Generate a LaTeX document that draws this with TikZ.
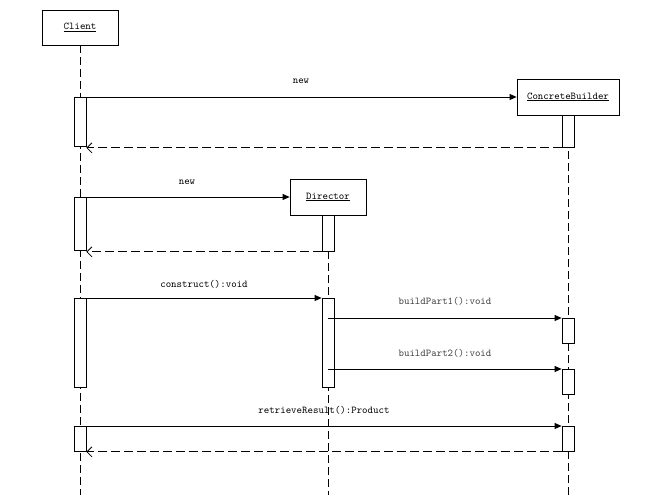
\documentclass[tikz,border=0pt]{standalone}
\usepackage{fontspec}
\usetikzlibrary{arrows.meta}
\newcommand\lbl{\ttfamily\fontsize{10.4}{12}\selectfont}
\begin{document}
\begin{tikzpicture}[x=1pt,y=-1pt,line width=0.8pt,
  obj/.style={draw, fill=white, minimum height=36, inner sep=0, font=\lbl},
  act/.style={draw, fill=white, minimum width=12, inner sep=0, anchor=north},
  life/.style={dash pattern=on 8pt off 4pt},
  call/.style={-{Triangle[length=7pt,width=6pt]}},
  ret/.style={dash pattern=on 9pt off 4pt, -{Straight Barb[length=5pt,width=10pt]}},
  msg/.style={font=\lbl, inner sep=0}]
\useasboundingbox (0,0) rectangle (671,495);
\fill[white] (0,0) rectangle (671,495);
% objects
\node[obj, minimum width=76, minimum height=35] (client) at (80,27.5) {\underline{Client}};
\node[obj, minimum width=102] (cb) at (568,97) {\underline{ConcreteBuilder}};
\node[obj, minimum width=76] (dir) at (328,197) {\underline{Director}};
% lifeline ends
\coordinate (cEnd) at (80,495);
\coordinate (dEnd) at (328,495);
\coordinate (cbEnd) at (568,495);
\draw[life] (client.south) -- (cEnd);
\draw[life] (dir.south) -- (dEnd);
\draw[life] (cb.south) -- (cbEnd);
% activations
\node[act, minimum height=49] (cA1) at (80,97) {};
\node[act, minimum height=32] (cbA1) at (568,115) {};
\node[act, minimum height=53] (cA2) at (80,197) {};
\node[act, minimum height=36] (dA1) at (328,215) {};
\node[act, minimum height=89] (cA3) at (80,298) {};
\node[act, minimum height=89] (dA2) at (328,298) {};
\node[act, minimum height=25] (cbA2) at (568,318) {};
\node[act, minimum height=25] (cbA3) at (568,369) {};
\node[act, minimum height=25] (cA4) at (80,426) {};
\node[act, minimum height=25] (cbA4) at (568,426) {};
% messages
\draw[call] (cA1.north east) -- (cb.west);
\node[msg] (l1) at (301,81) {new};
\draw[ret] (cbA1.south west) -- (cA1.south east |- cbA1.south west);
\draw[call] (cA2.north east) -- (dir.west);
\node[msg] (l2) at (187,182) {new};
\draw[ret] (dA1.south west) -- (cA2.south east |- dA1.south west);
\draw[call] (cA3.north east) -- (dA2.north west);
\node[msg] (l3) at (204,284) {construct():void};
\draw[call] (dA2.center |- cbA2.north) -- (cbA2.north west);
\node[msg, text=black!75] (l4) at (445,301) {buildPart1():void};
\draw[call] (dA2.center |- cbA3.north) -- (cbA3.north west);
\node[msg, text=black!75] (l5) at (445,353) {buildPart2():void};
\draw[call] (cA4.north east) -- (cbA4.north west);
\node[msg] (l6) at (324,410) {retrieveResult():Product};
\draw[ret] (cbA4.south west) -- (cA4.south east);
\end{tikzpicture}
\end{document}
